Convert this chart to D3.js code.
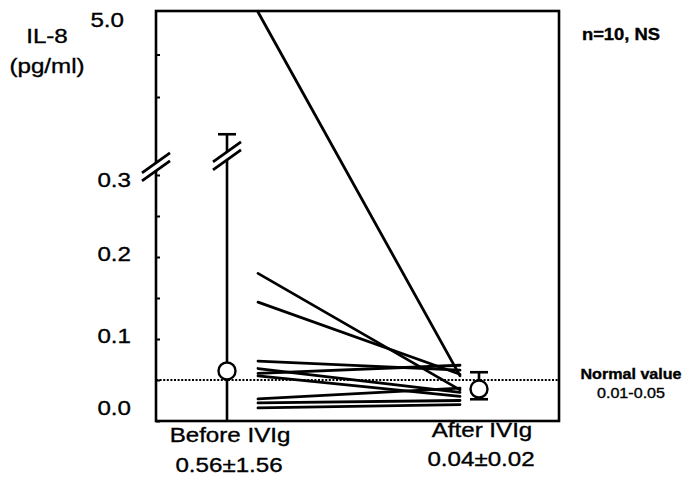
<!DOCTYPE html>
<html>
<head>
<meta charset="utf-8">
<script src="https://cdn.jsdelivr.net/npm/d3@7"></script>
<style>
  html, body { margin: 0; padding: 0; background: #fff; }
  svg { display: block; }
</style>
</head>
<body>
<svg id="chart" width="688" height="479"></svg>
<script>
// IL-8 per patient, before and after IVIg (pg/ml), paired by index
const categories = ["Before IVIg", "After IVIg"];
const beforeValues = [5.0, 0.18, 0.145, 0.073, 0.064, 0.058, 0.055, 0.027, 0.022, 0.016];
const afterValues  = [0.055, 0.038, 0.057, 0.062, 0.035, 0.068, 0.030, 0.040, 0.025, 0.020];

// axis ticks: lower segment 0–0.3, upper segment up to 5.0
const lowerTicks = [0, 0.05, 0.1, 0.15, 0.2, 0.25, 0.3];
const lowerLabels = [0, 0.1, 0.2, 0.3];
const upperTicks = [3, 4];
const upperLabels = [5];

const normalValue = 0.05;
const normalText = ["Normal value", "0.01-0.05"];
const yTitle = ["IL-8", "(pg/ml)"];
const note = "n=10, NS";

const FONT = "'Liberation Sans', Arial, sans-serif";
const SX = 1.15; // horizontal stretch of lettering

const svg = d3.select("#chart");
svg.append("rect").attr("width", 688).attr("height", 479).attr("fill", "#fff");

const frame = { left: 156, right: 559, top: 11, bottom: 421 };

// broken y scale
const yLow = d3.scaleLinear().domain([0, 0.3]).range([421, 175]);
const yHigh = d3.scaleLinear().domain([3, 5]).range([97, 12]);
const y = v => (v <= 0.3 ? yLow(v) : yHigh(v));
const x = d3.scalePoint().domain(categories).range([227, 479]);

function stretch(sel) {
  sel.each(function () {
    const t = d3.select(this);
    const tx = +t.attr("x") || 0, ty = +t.attr("y") || 0;
    t.attr("x", null).attr("y", null)
     .attr("transform", `translate(${tx},${ty}) scale(${SX},1)`);
  });
}
function ink(sel) {
  sel.attr("fill", "#000").attr("stroke", "#000").attr("stroke-width", 0.35);
}
function label(txt, cx, by, size, weight, anchor) {
  return svg.append("text")
    .attr("x", cx).attr("y", by)
    .attr("text-anchor", anchor || "middle")
    .attr("font-family", FONT).attr("font-size", size)
    .attr("font-weight", weight || "normal")
    .text(txt)
    .call(ink)
    .call(stretch);
}

// frame
svg.append("rect")
  .attr("x", frame.left).attr("y", frame.top)
  .attr("width", frame.right - frame.left).attr("height", frame.bottom - frame.top)
  .attr("fill", "none").attr("stroke", "#000").attr("stroke-width", 2.6);

// inward ticks
const tickG = svg.append("g").attr("transform", `translate(${frame.left},0)`);
tickG.append("g").call(d3.axisRight(yLow).tickValues(lowerTicks).tickSize(4).tickFormat(""));
tickG.append("g").call(d3.axisRight(yHigh).tickValues(upperTicks).tickSize(4).tickFormat(""));
tickG.selectAll(".domain").remove();
tickG.selectAll(".tick line").attr("stroke", "#000").attr("stroke-width", 2);

// tick labels
const labG = svg.append("g").attr("transform", `translate(${frame.left},0)`);
labG.append("g").attr("class", "low")
  .call(d3.axisLeft(yLow).tickValues(lowerLabels).tickSize(0).tickPadding(25).tickFormat(d3.format(".1f")));
labG.append("g").attr("class", "high")
  .call(d3.axisLeft(yHigh).tickValues(upperLabels).tickSize(0).tickPadding(32).tickFormat(d3.format(".1f")));
labG.selectAll(".domain").remove();
labG.selectAll("text")
  .attr("font-family", FONT).attr("font-size", 21)
  .attr("y", d => (d === 0 ? -13 : d === 0.3 ? 5 : d === 5 ? 8 : -3))
  .call(ink)
  .call(stretch);

// normal value reference line
svg.append("line")
  .attr("x1", frame.left).attr("x2", frame.right)
  .attr("y1", y(normalValue)).attr("y2", y(normalValue))
  .attr("stroke", "#000").attr("stroke-width", 1.8).attr("stroke-dasharray", "2,1.6");

// patient lines
const x0 = x(categories[0]) + 31, x1 = x(categories[1]) - 19;
svg.append("g").selectAll("line")
  .data(beforeValues.map((b, i) => [b, afterValues[i]]))
  .join("line")
  .attr("x1", x0).attr("y1", d => y(d[0]))
  .attr("x2", x1).attr("y2", d => y(d[1]))
  .attr("stroke", "#000").attr("stroke-width", 2.8).attr("stroke-linecap", "round");

// group summaries: mean ± SD bars, median markers
const groups = [beforeValues, afterValues].map((vals, i) => ({
  cat: categories[i],
  mean: d3.mean(vals),
  sd: d3.deviation(vals),
  median: d3.median(vals)
}));
const capW = 9;
groups.forEach(g => {
  const cx = x(g.cat);
  const lo = Math.max(0, g.mean - g.sd), hi = g.mean + g.sd;
  svg.append("line").attr("x1", cx).attr("x2", cx)
    .attr("y1", y(lo)).attr("y2", y(hi))
    .attr("stroke", "#000").attr("stroke-width", 2.6);
  svg.append("line").attr("x1", cx - capW).attr("x2", cx + capW)
    .attr("y1", y(hi)).attr("y2", y(hi))
    .attr("stroke", "#000").attr("stroke-width", 2.6);
  if (g.mean - g.sd > 0) {
    svg.append("line").attr("x1", cx - capW).attr("x2", cx + capW)
      .attr("y1", y(lo)).attr("y2", y(lo))
      .attr("stroke", "#000").attr("stroke-width", 2.6);
  }
});

// axis breaks
function drawBreak(cx, cy) {
  const hw = 14, hh = 10, gap = 4;
  const a1 = [cx - hw, cy - gap + hh], a2 = [cx + hw, cy - gap - hh];
  const b1 = [cx - hw, cy + gap + hh], b2 = [cx + hw, cy + gap - hh];
  svg.append("polygon")
    .attr("points", [a1, a2, b2, b1].map(p => p.join(",")).join(" "))
    .attr("fill", "#fff");
  [[a1, a2], [b1, b2]].forEach(([p, q]) => {
    svg.append("line").attr("x1", p[0]).attr("y1", p[1]).attr("x2", q[0]).attr("y2", q[1])
      .attr("stroke", "#000").attr("stroke-width", 2.8);
  });
}
const breakY = yLow(0.31);
drawBreak(frame.left, breakY);
drawBreak(x(categories[0]), breakY - 11);

// median markers
svg.append("g").selectAll("circle")
  .data(groups).join("circle")
  .attr("cx", d => x(d.cat)).attr("cy", d => y(d.median)).attr("r", 8.5)
  .attr("fill", "#fff").attr("stroke", "#000").attr("stroke-width", 2.4);

// y title
label(yTitle[0], 47, 43, 21);
label(yTitle[1], 47, 73, 21);

// category and summary labels
const fmt = d3.format(".2f");
const catBase = [442, 437], statBase = [472, 466];
groups.forEach((g, i) => {
  label(g.cat, x(g.cat) + 3, catBase[i], 21);
  label(`${fmt(g.mean)}±${fmt(g.sd)}`, x(g.cat) + 2, statBase[i], 21);
});

// notes on the right
label(note, 621, 40, 16, "bold");
label(normalText[0], 631, 379, 14, "bold");
label(normalText[1], 631, 398, 14);
</script>
</body>
</html>
